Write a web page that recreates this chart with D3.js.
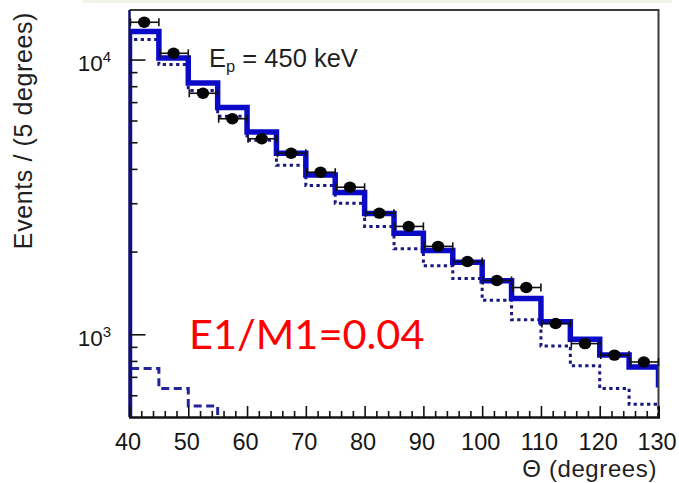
<!DOCTYPE html>
<html>
<head>
<meta charset="utf-8">
<script src="https://cdn.jsdelivr.net/npm/d3@7"></script>
<style>
  html, body { margin: 0; padding: 0; background: #fff; }
  svg { display: block; }
</style>
</head>
<body>
<svg id="chart" width="679" height="483"></svg>
<script>
// Angular distribution, 5-degree bins from 40 to 130 degrees
const binEdges = [40, 45, 50, 55, 60, 65, 70, 75, 80, 85, 90, 95, 100, 105, 110, 115, 120, 125, 130];

// Measured counts per bin (points with horizontal bin-width bars)
const dataCounts = [13670, 10540, 7540, 6090, 5150, 4560, 3890, 3430, 2760, 2470, 2090, 1840, 1570, 1480, 1095, 925, 840, 793];

// Total fit (thick blue histogram) and its closing level at the right edge
const fitTotal = [12640, 10130, 8210, 6690, 5450, 4560, 3800, 3280, 2750, 2330, 2020, 1830, 1565, 1350, 1110, 960, 840, 760];
const fitTotalTail = 640;

// M1 component (dotted histogram)
const fitM1 = [11820, 9590, 7720, 6220, 5080, 4120, 3480, 3000, 2470, 2050, 1775, 1595, 1330, 1130, 907, 769, 635, 556];

// E1 component (dashed histogram), only the first bins reach the plotted range
const fitE1 = [750, 635, 548, 430];

// Axis ticks
const xMajorTicks = [40, 50, 60, 70, 80, 90, 100, 110, 120, 130];
const xMinorTicks = [42, 44, 46, 48, 52, 54, 56, 58, 62, 64, 66, 68, 72, 74, 76, 78, 82, 84, 86, 88,
                     92, 94, 96, 98, 102, 104, 106, 108, 112, 114, 116, 118, 122, 124, 126, 128];
const yMajorTicks = [1000, 10000];
const yMajorExp = ["3", "4"];
const yMinorTicks = [600, 700, 800, 900, 2000, 3000, 4000, 5000, 6000, 7000, 8000, 9000];

const energyLabel = { main: "E", sub: "p", rest: " = 450 keV" };
const ratioLabel = "E1/M1=0.04";
const xTitle = "\u0398 (degrees)";
const yTitle = "Events / (5 degrees)";

const svg = d3.select("#chart");
const W = 679, H = 483;
const frame = { left: 129.5, right: 658.5, top: 10, bottom: 417 };

svg.append("rect").attr("width", W).attr("height", H).attr("fill", "#fff");
// faint strip along the top edge
svg.append("rect").attr("x", 83).attr("y", 0).attr("width", 589).attr("height", 3).attr("fill", "#eef4e6");

const x = d3.scaleLinear().domain([40, 130]).range([frame.left, frame.right]);
const y = d3.scaleLog().domain([500, 15150]).range([frame.bottom, frame.top]);

const clipId = "plotClip";
svg.append("defs").append("clipPath").attr("id", clipId)
  .append("rect")
  .attr("x", frame.left).attr("y", frame.top)
  .attr("width", frame.right - frame.left).attr("height", frame.bottom - frame.top);

// Step path for a histogram: starts on the axis, walks the bins, ends at the given level
function stepPath(values, endValue) {
  let p = `M${x(binEdges[0])},${frame.bottom}`;
  values.forEach((v, i) => {
    p += `V${y(v)}H${x(binEdges[i + 1])}`;
  });
  p += `V${endValue == null ? frame.bottom : y(endValue)}`;
  return p;
}

const plot = svg.append("g").attr("clip-path", `url(#${clipId})`);

// dashed E1 component
plot.append("path")
  .attr("d", stepPath(fitE1, 300))
  .attr("fill", "none")
  .attr("stroke", "#24249a")
  .attr("stroke-width", 3)
  .attr("stroke-dasharray", "8,4.5");

// dotted M1 component
plot.append("path")
  .attr("d", stepPath(fitM1, null))
  .attr("fill", "none")
  .attr("stroke", "#1a1a7e")
  .attr("stroke-width", 3)
  .attr("stroke-dasharray", "3.3,3.4");

// total fit
plot.append("path")
  .attr("d", stepPath(fitTotal, fitTotalTail))
  .attr("fill", "none")
  .attr("stroke", "#0a0ac8")
  .attr("stroke-width", 5.5)
  .attr("stroke-linejoin", "miter");

// frame
svg.append("path")
  .attr("d", `M${frame.left},${frame.top}H${frame.right}V${frame.bottom}`)
  .attr("fill", "none").attr("stroke", "#3a3a3a").attr("stroke-width", 2);
svg.append("line")
  .attr("x1", frame.left).attr("x2", frame.left).attr("y1", frame.top).attr("y2", frame.bottom)
  .attr("stroke", "#10106a").attr("stroke-width", 2.5);

// x axis
const xAxisMajor = d3.axisBottom(x).tickValues(xMajorTicks).tickSize(-11).tickPadding(23).tickFormat(d3.format("d"));
const xAxisMinor = d3.axisBottom(x).tickValues(xMinorTicks).tickSize(-6).tickFormat("");
const gxMinor = svg.append("g").attr("transform", `translate(0,${frame.bottom})`).call(xAxisMinor);
const gx = svg.append("g").attr("transform", `translate(0,${frame.bottom})`).call(xAxisMajor);
[gx, gxMinor].forEach(g => {
  g.select(".domain").attr("stroke", "#111").attr("stroke-width", 2);
  g.selectAll(".tick line").attr("stroke", "#111").attr("stroke-width", 1.6);
});
gx.selectAll(".tick text")
  .attr("font-family", "'Liberation Sans', Arial, sans-serif")
  .attr("font-size", 23.5)
  .attr("fill", "#161616")
  .attr("dx", -2)
  .attr("dy", 0)
  .attr("y", 32.5);

// y axis
const yAxisMajor = d3.axisLeft(y).tickValues(yMajorTicks).tickSize(-16).tickFormat("");
const yAxisMinor = d3.axisLeft(y).tickValues(yMinorTicks).tickSize(-8).tickFormat("");
const gyMinor = svg.append("g").attr("transform", `translate(${frame.left},0)`).call(yAxisMinor);
const gy = svg.append("g").attr("transform", `translate(${frame.left},0)`).call(yAxisMajor);
[gy, gyMinor].forEach(g => {
  g.select(".domain").remove();
  g.selectAll(".tick line").attr("stroke", "#111").attr("stroke-width", 1.6);
});

const yLabels = svg.append("g")
  .attr("font-family", "'Liberation Sans', Arial, sans-serif")
  .attr("fill", "#161616");
yMajorTicks.forEach((v, i) => {
  const t = yLabels.append("text")
    .attr("x", 111)
    .attr("y", y(v) + 11.5)
    .attr("text-anchor", "end")
    .attr("font-size", 22.5);
  t.append("tspan").text("10");
  t.append("tspan").attr("font-size", 15).attr("dy", -9).text(yMajorExp[i]);
});

// data points with bin-width bars
const pts = svg.append("g");
dataCounts.forEach((v, i) => {
  const x0 = x(binEdges[i]), x1 = x(binEdges[i + 1]);
  const xc = (x0 + x1) / 2, yc = y(v);
  pts.append("line").attr("x1", x0 + 1).attr("x2", x1).attr("y1", yc).attr("y2", yc)
    .attr("stroke", "#111").attr("stroke-width", 1.6);
  [x0 + 1, x1].forEach(xe => {
    pts.append("line").attr("x1", xe).attr("x2", xe).attr("y1", yc - 4).attr("y2", yc + 4)
      .attr("stroke", "#111").attr("stroke-width", 1.6);
  });
  pts.append("ellipse").attr("cx", xc).attr("cy", yc).attr("rx", 6.2).attr("ry", 5.7).attr("fill", "#050505");
});

// axis titles
svg.append("text")
  .attr("transform", "translate(32,12) rotate(-90)")
  .attr("text-anchor", "end")
  .attr("font-family", "'Liberation Sans', Arial, sans-serif")
  .attr("font-size", 25)
  .attr("letter-spacing", 0.6)
  .attr("fill", "#1f1f1f")
  .text(yTitle);

svg.append("text")
  .attr("x", 657).attr("y", 477)
  .attr("text-anchor", "end")
  .attr("font-family", "'Liberation Sans', Arial, sans-serif")
  .attr("font-size", 24)
  .attr("letter-spacing", 0.6)
  .attr("fill", "#1f1f1f")
  .text(xTitle);

// beam energy label
const eText = svg.append("text")
  .attr("x", 209).attr("y", 66.7)
  .attr("font-family", "'Liberation Sans', Arial, sans-serif")
  .attr("font-size", 25.5)
  .attr("fill", "#1f1f1f");
eText.append("tspan").text(energyLabel.main);
eText.append("tspan").attr("font-size", 16.5).attr("dy", 5).text(energyLabel.sub);
eText.append("tspan").attr("dy", -5).text(energyLabel.rest);

// multipole mixing ratio
svg.append("text")
  .attr("x", 189).attr("y", 349)
  .attr("font-family", "Lato, 'Open Sans', sans-serif")
  .attr("font-size", 41.5)
  .attr("fill", "#ff0000")
  .text(ratioLabel);
</script>
</body>
</html>
